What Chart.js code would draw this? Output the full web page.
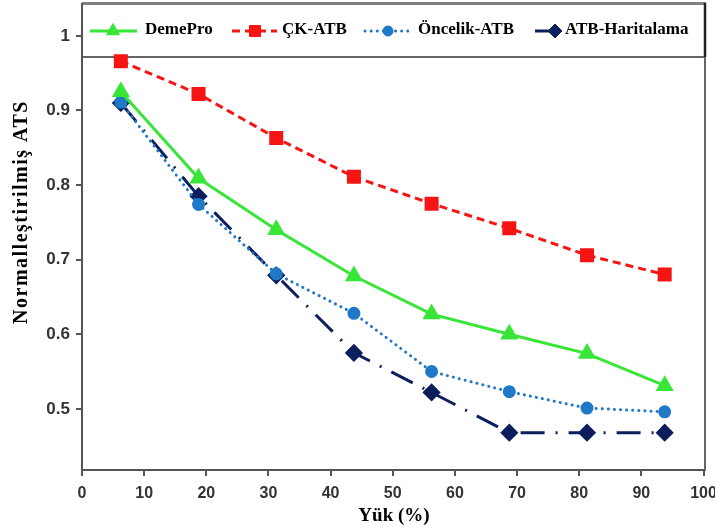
<!DOCTYPE html>
<html>
<head>
<meta charset="utf-8">
<script src="https://cdn.jsdelivr.net/npm/chart.js@4"></script>
<style>
  body { margin: 0; background: #fff; }
  #wrap { width: 715px; height: 532px; }
</style>
</head>
<body>
<div id="wrap"><canvas id="line-chart"></canvas></div>
<script>
// values
const loads = [6.25, 18.75, 31.25, 43.75, 56.25, 68.75, 81.25, 93.75];
const demePro = [0.925, 0.809, 0.740, 0.678, 0.627, 0.600, 0.574, 0.531];
const ckAtb = [0.966, 0.922, 0.863, 0.811, 0.775, 0.742, 0.706, 0.680];
const oncelikAtb = [0.911, 0.774, 0.681, 0.628, 0.550, 0.523, 0.501, 0.496];
const atbHaritalama = [0.910, 0.785, 0.679, 0.575, 0.522, 0.468, 0.468, 0.468];
const xTicks = [0, 10, 20, 30, 40, 50, 60, 70, 80, 90, 100];
const yTicks = [0.5, 0.6, 0.7, 0.8, 0.9, 1];
const yTitle = 'Normalleştirilmiş ATS';

const serif = '"Liberation Serif", "Times New Roman", serif';
const sans = '"Liberation Sans", Arial, sans-serif';

function pts(ys) {
  return loads.map((x, i) => ({ x: x, y: ys[i] }));
}

// legend box drawn inside the top of the plot, like the original
const legendBox = {
  id: 'legendBox',
  beforeDatasetsDraw(chart) {
    const ctx = chart.ctx;
    const a = chart.chartArea;
    const boxBottom = 57;
    ctx.save();
    ctx.fillStyle = '#fff';
    ctx.fillRect(a.left, a.top, a.right - a.left, boxBottom - a.top);
    ctx.strokeStyle = '#333';
    ctx.lineWidth = 1.5;
    ctx.beginPath();
    ctx.moveTo(a.left, boxBottom);
    ctx.lineTo(a.right, boxBottom);
    ctx.stroke();

    const items = [
      { ds: 0, x1: 90, x2: 137, mx: 113, tx: 145 },
      { ds: 1, x1: 232, x2: 277, mx: 255, tx: 282 },
      { ds: 2, x1: 365, x2: 412, mx: 388, tx: 418 },
      { ds: 3, x1: 535, x2: 555, mx: 555, tx: 565 }
    ];
    const y = 31;
    items.forEach(it => {
      const d = chart.data.datasets[it.ds];
      ctx.save();
      ctx.strokeStyle = d.borderColor;
      ctx.lineWidth = d.borderWidth;
      ctx.lineCap = d.borderCapStyle || 'butt';
      ctx.setLineDash(it.ds === 3 ? [] : (d.borderDash || []));
      ctx.beginPath();
      ctx.moveTo(it.x1, y);
      ctx.lineTo(it.x2, y);
      ctx.stroke();
      ctx.restore();
      ctx.save();
      ctx.fillStyle = d.pointBackgroundColor;
      ctx.strokeStyle = d.pointBackgroundColor;
      ctx.lineWidth = 1;
      Chart.helpers.drawPoint(ctx, {
        pointStyle: d.pointStyle,
        radius: d.pointRadius,
        borderWidth: 1
      }, it.mx, y);
      ctx.restore();
      ctx.fillStyle = '#000';
      ctx.font = 'bold 17px ' + serif;
      ctx.textBaseline = 'middle';
      ctx.textAlign = 'left';
      ctx.fillText(d.label, it.tx, y - 1);
    });
    ctx.restore();
  },
  afterDraw(chart) {
    const ctx = chart.ctx;
    const a = chart.chartArea;
    ctx.save();
    // frame
    ctx.strokeStyle = '#808080';
    ctx.lineWidth = 3;
    ctx.beginPath();
    ctx.moveTo(a.left, a.top + 0.5);
    ctx.lineTo(a.right, a.top + 0.5);
    ctx.stroke();
    ctx.strokeStyle = '#555';
    ctx.lineWidth = 2;
    ctx.beginPath();
    ctx.moveTo(a.left, a.top);
    ctx.lineTo(a.left, a.bottom);
    ctx.lineTo(a.right, a.bottom);
    ctx.stroke();
    ctx.strokeStyle = '#666';
    ctx.beginPath();
    ctx.moveTo(a.right - 1, 57);
    ctx.lineTo(a.right - 1, a.bottom);
    ctx.stroke();
    ctx.strokeStyle = '#222';
    ctx.lineWidth = 2.5;
    ctx.beginPath();
    ctx.moveTo(a.right - 1, a.top);
    ctx.lineTo(a.right - 1, 57);
    ctx.stroke();
    // y axis title
    ctx.translate(22, 212);
    ctx.rotate(-Math.PI / 2);
    ctx.font = 'bold 20px ' + serif;
    ctx.letterSpacing = '1.5px';
    ctx.fillStyle = '#000';
    ctx.textAlign = 'center';
    ctx.textBaseline = 'middle';
    ctx.fillText(yTitle, 0, 0);
    ctx.restore();
  }
};

new Chart(document.getElementById('line-chart'), {
  type: 'line',
  data: {
    datasets: [
      {
        label: 'DemePro',
        data: pts(demePro),
        borderColor: '#38e638',
        backgroundColor: '#38e638',
        pointBackgroundColor: '#38e638',
        pointBorderColor: '#38e638',
        borderWidth: 3,
        pointStyle: 'triangle',
        pointRadius: 7.5
      },
      {
        label: 'ÇK-ATB',
        data: pts(ckAtb),
        borderColor: '#f51515',
        backgroundColor: '#f51515',
        pointBackgroundColor: '#f51515',
        pointBorderColor: '#f51515',
        borderWidth: 3,
        borderDash: [8, 5],
        pointStyle: 'rect',
        pointRadius: 7.8
      },
      {
        label: 'Öncelik-ATB',
        data: pts(oncelikAtb),
        borderColor: '#1f78c8',
        backgroundColor: '#1f78c8',
        pointBackgroundColor: '#1f78c8',
        pointBorderColor: '#1f78c8',
        borderWidth: 3,
        borderDash: [0.1, 6],
        borderCapStyle: 'round',
        pointStyle: 'circle',
        pointRadius: 5
      },
      {
        label: 'ATB-Haritalama',
        data: pts(atbHaritalama),
        borderColor: '#0c1f5c',
        backgroundColor: '#0c1f5c',
        pointBackgroundColor: '#0c1f5c',
        pointBorderColor: '#0c1f5c',
        borderWidth: 3,
        borderDash: [24, 11, 2, 11],
        pointStyle: 'rectRot',
        pointRadius: 7
      }
    ]
  },
  options: {
    responsive: true,
    maintainAspectRatio: false,
    animation: false,
    layout: { autoPadding: false, padding: { top: 3, right: 9, left: 0, bottom: 0 } },
    elements: { line: { tension: 0, fill: false } },
    scales: {
      x: {
        type: 'linear',
        min: 0,
        max: 100.4,
        afterBuildTicks: s => { s.ticks = xTicks.map(v => ({ value: v })); },
        afterFit: s => { s.height = 62; s.paddingLeft = 0; s.paddingRight = 0; },
        grid: { drawOnChartArea: false, drawTicks: true, tickLength: 6, color: '#555', lineWidth: 2 },
        border: { display: false },
        ticks: { color: '#333', font: { family: sans, size: 16, weight: 'bold' }, padding: 8, maxRotation: 0 },
        title: {
          display: true,
          text: 'Yük (%)',
          color: '#000',
          font: { family: serif, size: 19, weight: 'bold' },
          padding: { top: 0, bottom: 5 }
        }
      },
      y: {
        min: 0.418,
        max: 1.044,
        afterBuildTicks: s => { s.ticks = yTicks.map(v => ({ value: v })); },
        afterFit: s => { s.width = 82; s.paddingTop = 0; s.paddingBottom = 0; },
        grid: { drawOnChartArea: false, drawTicks: true, tickLength: 6, color: '#555', lineWidth: 2 },
        border: { display: false },
        ticks: {
          color: '#333',
          font: { family: sans, size: 17, weight: 'bold' },
          padding: 6,
          callback: v => (v === 1 ? '1' : v.toFixed(1))
        }
      }
    },
    plugins: {
      legend: { display: false },
      tooltip: { enabled: false }
    }
  },
  plugins: [legendBox]
});
</script>
</body>
</html>
